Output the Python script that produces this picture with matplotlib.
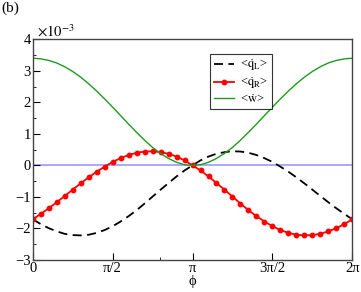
import numpy as np
import matplotlib
matplotlib.use("Agg")
from matplotlib import pyplot as plt

plt.rcParams['font.family'] = ['Liberation Serif', 'DejaVu Serif']
plt.rcParams['mathtext.fontset'] = 'stix'

# phase points, 41 samples over one period (in units of pi)
phi_over_pi = [k / 20 for k in range(41)]

# <q_R> (x 1e-3) with markers
q_R = [-1.71, -1.54, -1.36, -1.17, -0.97, -0.77, -0.57, -0.38, -0.20, -0.04,
       0.11, 0.23, 0.33, 0.40, 0.44, 0.45, 0.42, 0.37, 0.28, 0.16,
       0.00, -0.16, -0.35, -0.56, -0.77, -0.99, -1.21, -1.42, -1.61, -1.78,
       -1.93, -2.05, -2.14, -2.20, -2.22, -2.21, -2.17, -2.09, -1.99, -1.86,
       -1.71]

# <q_L> (x 1e-3), black dashed curve
q_L = [-1.71, -1.86, -1.99, -2.09, -2.17, -2.21, -2.22, -2.20, -2.14, -2.05,
       -1.93, -1.78, -1.61, -1.42, -1.21, -0.99, -0.77, -0.56, -0.35, -0.16,
       0.00, 0.16, 0.28, 0.37, 0.42, 0.45, 0.44, 0.40, 0.33, 0.23,
       0.11, -0.04, -0.20, -0.38, -0.57, -0.77, -0.97, -1.17, -1.36, -1.54,
       -1.71]

# <w> (x 1e-3), green curve
w = [3.40, 3.38, 3.33, 3.25, 3.13, 2.98, 2.80, 2.59, 2.36, 2.11,
     1.85, 1.58, 1.31, 1.05, 0.80, 0.57, 0.38, 0.22, 0.10, 0.02,
     0.00, 0.02, 0.10, 0.22, 0.38, 0.57, 0.80, 1.05, 1.31, 1.58,
     1.85, 2.11, 2.36, 2.59, 2.80, 2.98, 3.13, 3.25, 3.33, 3.38,
     3.40]

xtick_vals = [0, 0.5, 1, 1.5, 2]
xtick_labels = ['0', 'π/2', 'π', '3π/2', '2π']

phi = np.array(phi_over_pi) * np.pi

fig = plt.figure(figsize=(3.61, 2.92), dpi=100)
ax = fig.add_axes([0.0906, 0.1096, 0.8854, 0.7558])

ax.axhline(0, color='#9a9aff', lw=1.2, zorder=1)
ax.plot(phi, q_L, color='black', lw=1.3, dashes=(5, 3), label=r'<$\dot{\mathrm{q}}_{\mathrm{L}}$>')
ax.plot(phi, q_R, color='red', lw=1.3, marker='o', ms=3.2, label=r'<$\dot{\mathrm{q}}_{\mathrm{R}}$>')
ax.plot(phi, w, color='#1f9a1f', lw=1.0, label=r'<$\dot{\mathrm{w}}$>')

ax.set_xlim(0, 2 * np.pi)
ax.set_ylim(-3, 4)
ax.set_xticks(np.array(xtick_vals) * np.pi)
ax.set_xticklabels(xtick_labels)
ax.set_xticks([2.5], minor=True)
ax.set_yticks(range(-3, 5))
ax.set_yticks(np.arange(-2.5, 4, 1.0), minor=True)
ax.tick_params(axis='both', which='major', direction='in', length=5, labelsize=10.5, pad=1.5)
ax.tick_params(axis='both', which='minor', direction='in', length=2.5)
ax.tick_params(top=False, right=False)
for s in ax.spines.values():
    s.set_color('#444444')
    s.set_linewidth(1.0)

ax.set_xlabel('ϕ', fontsize=10.5, labelpad=0)
ax.text(0.012, 1.0, r'$\times 10^{-3}$', transform=ax.transAxes, fontsize=10.5, va='bottom', ha='left')
fig.text(0.003, 0.995, '(b)', fontsize=11, va='top', ha='left')

leg = ax.legend(loc='upper left', bbox_to_anchor=(0.554, 0.935), fontsize=9, frameon=True,
                fancybox=False, handlelength=1.6, handletextpad=0.5, borderpad=0.3,
                labelspacing=0.15, borderaxespad=0)
leg.get_frame().set_edgecolor('black')
leg.get_frame().set_linewidth(0.8)

fig.savefig('out.png', dpi=100)
